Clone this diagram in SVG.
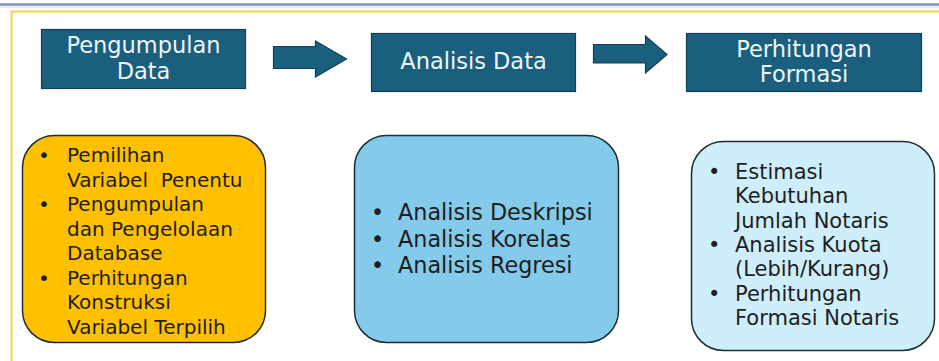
<svg xmlns="http://www.w3.org/2000/svg" width="939" height="361" viewBox="0 0 939 361">
<style>
.hd{fill:#1A5F7E;stroke:#123F55;stroke-width:1.2}
.ht{font-family:"DejaVu Sans","Noto Sans",sans-serif;font-size:22.5px;fill:#F0F4F6;text-anchor:middle}
.bt{font-family:"DejaVu Sans","Noto Sans",sans-serif;font-size:20px;fill:#1E1E1E}
.b2{font-size:22.3px}
.b3{font-size:21px}
.arr{fill:#1A5F7E;stroke:#123F55;stroke-width:1.2}
.card{stroke:#1E2E36;stroke-width:1.5}
</style>
<rect x="0" y="0" width="939" height="361" fill="#FFFFFF"/>
<line x1="0" y1="4.5" x2="939" y2="4.5" stroke="#7F93C4" stroke-width="2.5"/>
<line x1="0" y1="7" x2="939" y2="7" stroke="#C9D3EA" stroke-width="1"/>
<polyline points="11.5,361 11.5,11.5 939,11.5" fill="none" stroke="#F9D24E" stroke-width="2"/>

<g id="connectors">
<path class="arr" d="M273.5,46.5 H315.5 V41 L346.5,59 L315.5,77 V68.5 H273.5 Z"/>
<path class="arr" d="M593.5,44.5 H645.5 V36 L667,54.5 L645.5,73 V63 H593.5 Z"/>
</g>

<g id="pengumpulan">
<rect class="hd" x="41.5" y="29.5" width="204" height="59"/>
<text class="ht" x="143.5" y="53">Pengumpulan</text>
<text class="ht" x="143.5" y="79">Data</text>
</g>
<g id="analisis">
<rect class="hd" x="371.5" y="33.5" width="204" height="58"/>
<text class="ht" x="473.5" y="69">Analisis Data</text>
</g>
<g id="perhitungan">
<rect class="hd" x="686.5" y="33.5" width="235" height="58"/>
<text class="ht" x="804" y="57">Perhitungan</text>
<text class="ht" x="804" y="82">Formasi</text>
</g>

<g id="card1">
<rect class="card" x="22.5" y="135.5" width="243" height="207" rx="32" fill="#FFC000"/>
<text class="bt">
<tspan x="38" y="162">•</tspan><tspan x="67" y="162">Pemilihan</tspan>
<tspan x="67" y="186.5">Variabel&#160; Penentu</tspan>
<tspan x="38" y="211">•</tspan><tspan x="67" y="211">Pengumpulan</tspan>
<tspan x="67" y="235.5">dan Pengelolaan</tspan>
<tspan x="67" y="260">Database</tspan>
<tspan x="38" y="284.5">•</tspan><tspan x="67" y="284.5">Perhitungan</tspan>
<tspan x="67" y="309">Konstruksi</tspan>
<tspan x="67" y="333.5">Variabel Terpilih</tspan>
</text>
</g>

<g id="card2">
<rect class="card" x="354.5" y="135.5" width="264" height="207" rx="32" fill="#83CAEB"/>
<text class="bt b2">
<tspan x="371" y="220">•</tspan><tspan x="398" y="220">Analisis Deskripsi</tspan>
<tspan x="371" y="246.5">•</tspan><tspan x="398" y="246.5">Analisis Korelas</tspan>
<tspan x="371" y="273">•</tspan><tspan x="398" y="273">Analisis Regresi</tspan>
</text>
</g>

<g id="card3">
<rect class="card" x="691.5" y="141.5" width="243" height="209" rx="32" fill="#CDEEFA"/>
<text class="bt b3">
<tspan x="708" y="179">•</tspan><tspan x="735" y="179">Estimasi</tspan>
<tspan x="735" y="203">Kebutuhan</tspan>
<tspan x="735" y="227.5">Jumlah Notaris</tspan>
<tspan x="708" y="252">•</tspan><tspan x="735" y="252">Analisis Kuota</tspan>
<tspan x="735" y="276">(Lebih/Kurang)</tspan>
<tspan x="708" y="300.5">•</tspan><tspan x="735" y="300.5">Perhitungan</tspan>
<tspan x="735" y="325">Formasi Notaris</tspan>
</text>
</g>
</svg>
